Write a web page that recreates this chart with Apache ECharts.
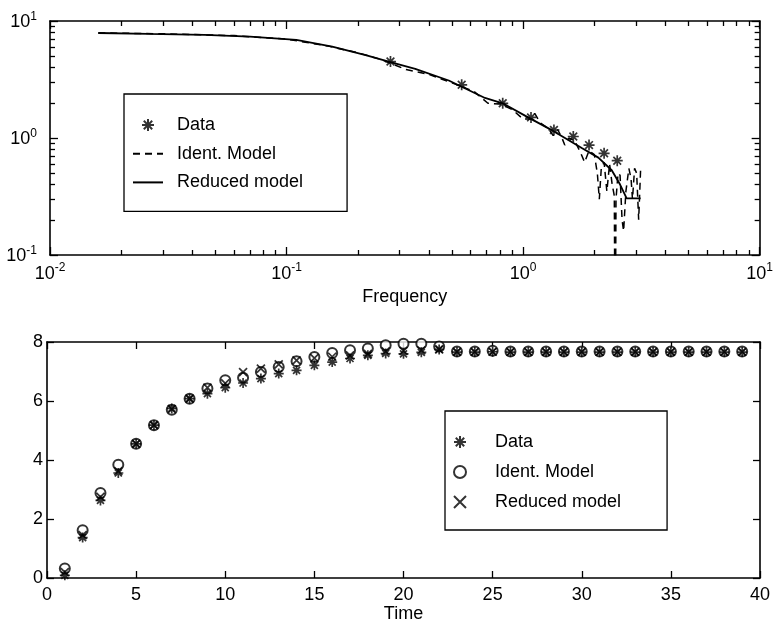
<!DOCTYPE html>
<html>
<head>
<meta charset="utf-8">
<script src="https://cdn.jsdelivr.net/npm/echarts@6/dist/echarts.min.js"></script>
<style>
  html, body { margin: 0; background: #fff; }
  #chart { width: 776px; height: 629px; }
</style>
</head>
<body>
<div id="chart"></div>
<script>
// top panel: frequency response (log-log)
const freqData = [0.275, 0.55, 0.82, 1.08, 1.35, 1.63, 1.9, 2.2, 2.5]
const magData = [4.5, 2.85, 1.98, 1.5, 1.17, 1.03, 0.87, 0.74, 0.64]

const freqIdent = [0.016, 0.03, 0.06, 0.1, 0.15, 0.2, 0.25, 0.32, 0.4, 0.47, 0.55, 0.62, 0.71, 0.8, 0.9, 1.0, 1.08, 1.12, 1.18, 1.28, 1.34, 1.4, 1.46, 1.5, 1.56, 1.65, 1.75, 1.82, 1.9, 2.0, 2.06, 2.1, 2.14, 2.2, 2.26, 2.32, 2.38, 2.43, 2.45, 2.47, 2.52, 2.57, 2.62, 2.66, 2.72, 2.8, 2.86, 2.9, 2.96, 3.02, 3.08, 3.14]
const magIdent = [7.9, 7.78, 7.5, 7.0, 6.1, 5.35, 4.7, 3.85, 3.5, 3.1, 2.75, 2.5, 1.98, 1.95, 1.75, 1.45, 1.45, 1.62, 1.35, 1.2, 1.05, 1.18, 1.0, 0.87, 1.0, 0.95, 0.75, 0.62, 0.78, 0.72, 0.5, 0.3, 0.55, 0.62, 0.35, 0.6, 0.4, 0.32, 0.01, 0.3, 0.5, 0.48, 0.2, 0.16, 0.35, 0.55, 0.45, 0.3, 0.55, 0.5, 0.2, 0.55]

const freqReduced = [0.016, 0.026, 0.045, 0.07, 0.11, 0.156, 0.216, 0.275, 0.35, 0.485, 0.69, 0.82, 1.05, 1.34, 1.77, 2.08, 2.37, 2.57, 2.74, 3.14]
const magReduced = [7.9, 7.75, 7.6, 7.35, 6.9, 6.05, 5.1, 4.45, 3.9, 3.1, 2.2, 1.98, 1.5, 1.15, 0.82, 0.68, 0.53, 0.4, 0.305, 0.305]

// bottom panel: step response
const time = [1, 2, 3, 4, 5, 6, 7, 8, 9, 10, 11, 12, 13, 14, 15, 16, 17, 18, 19, 20, 21, 22, 23, 24, 25, 26, 27, 28, 29, 30, 31, 32, 33, 34, 35, 36, 37, 38, 39]
const stepData = [0.09, 1.37, 2.63, 3.56, 4.55, 5.18, 5.75, 6.08, 6.25, 6.45, 6.61, 6.76, 6.93, 7.04, 7.21, 7.32, 7.44, 7.55, 7.61, 7.6, 7.65, 7.75, 7.66, 7.66, 7.67, 7.66, 7.66, 7.66, 7.66, 7.66, 7.66, 7.66, 7.66, 7.66, 7.66, 7.66, 7.66, 7.66, 7.66]
const stepIdent = [0.32, 1.62, 2.88, 3.84, 4.55, 5.18, 5.7, 6.08, 6.42, 6.7, 6.79, 6.98, 7.15, 7.35, 7.49, 7.63, 7.72, 7.78, 7.89, 7.94, 7.94, 7.85, 7.68, 7.68, 7.7, 7.68, 7.68, 7.68, 7.68, 7.68, 7.68, 7.68, 7.68, 7.68, 7.68, 7.68, 7.68, 7.68, 7.68]
const stepReduced = [0.2, 1.45, 2.75, 3.62, 4.55, 5.18, 5.72, 6.08, 6.45, 6.6, 6.98, 7.1, 7.24, 7.38, 7.45, 7.5, 7.55, 7.6, 7.68, 7.7, 7.72, 7.75, 7.67, 7.67, 7.67, 7.67, 7.67, 7.67, 7.67, 7.67, 7.67, 7.67, 7.67, 7.67, 7.67, 7.67, 7.67, 7.67, 7.67]

const font = '"Liberation Sans", Arial, sans-serif'
const starPath = 'path://M0,-10L0,10M-10,0L10,0M-7,-7L7,7M-7,7L7,-7'
const crossPath = 'path://M-10,-10L10,10M-10,10L10,-10'

const zip = (xs, ys) => xs.map((x, i) => [x, ys[i]])

// minor tick positions (log10 space) for the log axes
function minorTicks(fromDecade, toDecade) {
  const out = []
  for (let d = fromDecade; d < toDecade; d++) {
    for (let k = 2; k <= 9; k++) out.push(d + Math.log10(k))
  }
  return out
}

const powRich = {
  b: { fontSize: 18, fontFamily: font, color: '#000', padding: [3, 0, 0, 0], verticalAlign: 'bottom' },
  s: { fontSize: 12, fontFamily: font, color: '#000', verticalAlign: 'top' }
}
const powLabel = v => '{b|10}{s|' + Math.round(Math.log10(v)) + '}'

const line = { show: true, onZero: false, lineStyle: { color: '#000', width: 1.6 } }
const noLine = { show: false, onZero: false }
const tick = len => ({ show: true, inside: true, length: len, lineStyle: { color: '#000', width: 1.3 } })
const noLabel = { show: false }
const noSplit = { show: false }
const nameStyle = { fontSize: 18, fontFamily: font, color: '#000' }

function logAxis(grid, pos, min, max, withLabel, margin) {
  return {
    type: 'log', logBase: 10, gridIndex: grid, position: pos, min, max,
    axisLine: line, axisTick: tick(8), splitLine: noSplit,
    axisLabel: withLabel ? { formatter: powLabel, rich: powRich, margin } : noLabel
  }
}
function minorAxis(grid, pos, min, max) {
  return {
    type: 'value', gridIndex: grid, position: pos, min, max,
    axisLine: noLine, splitLine: noSplit, axisLabel: noLabel,
    axisTick: Object.assign(tick(5), { customValues: minorTicks(min, max) })
  }
}
function linAxis(grid, pos, min, max, interval, withLabel, margin) {
  return {
    type: 'value', gridIndex: grid, position: pos, min, max, interval,
    axisLine: line, axisTick: tick(7), splitLine: noSplit,
    axisLabel: withLabel ? { fontSize: 18, fontFamily: font, color: '#000', margin } : noLabel
  }
}

const xAxes = [
  Object.assign(logAxis(0, 'bottom', 0.01, 10, true, 7), {
    name: 'Frequency', nameLocation: 'middle', nameGap: 33, nameTextStyle: nameStyle
  }),
  logAxis(0, 'top', 0.01, 10, false),
  minorAxis(0, 'bottom', -2, 1),
  minorAxis(0, 'top', -2, 1),
  Object.assign(linAxis(1, 'bottom', 0, 40, 5, true, 8), {
    name: 'Time', nameLocation: 'middle', nameGap: 26, nameTextStyle: nameStyle
  }),
  linAxis(1, 'top', 0, 40, 5, false)
]
const yAxes = [
  logAxis(0, 'left', 0.1, 10, true, 13),
  logAxis(0, 'right', 0.1, 10, false),
  minorAxis(0, 'left', -1, 1),
  minorAxis(0, 'right', -1, 1),
  linAxis(1, 'left', 0, 8, 2, true, 4),
  linAxis(1, 'right', 0, 8, 2, false)
]

const markerStyle = { color: 'rgba(0,0,0,0)', borderColor: '#000', borderWidth: 1.7 }

const series = [
  {
    name: 'Ident. Model', type: 'line', xAxisIndex: 0, yAxisIndex: 0,
    data: zip(freqIdent, magIdent), symbol: 'none', clip: true,
    lineStyle: { color: '#000', width: 1.5, type: [7, 5] }, itemStyle: { color: '#000' }
  },
  {
    name: 'Reduced model', type: 'line', xAxisIndex: 0, yAxisIndex: 0,
    data: zip(freqReduced, magReduced), symbol: 'none', clip: true,
    lineStyle: { color: '#000', width: 1.8 }, itemStyle: { color: '#000' }
  },
  {
    name: 'Data', type: 'scatter', xAxisIndex: 0, yAxisIndex: 0,
    data: zip(freqData, magData), symbol: starPath, symbolSize: 11, itemStyle: markerStyle
  },
  {
    name: 'Ident. Model#2', type: 'scatter', xAxisIndex: 4, yAxisIndex: 4,
    data: zip(time, stepIdent), symbol: 'emptyCircle', symbolSize: 10,
    itemStyle: { color: '#000', borderWidth: 1.7 }
  },
  {
    name: 'Reduced model#2', type: 'scatter', xAxisIndex: 4, yAxisIndex: 4,
    data: zip(time, stepReduced), symbol: crossPath, symbolSize: 8, itemStyle: markerStyle
  },
  {
    name: 'Data#2', type: 'scatter', xAxisIndex: 4, yAxisIndex: 4,
    data: zip(time, stepData), symbol: starPath, symbolSize: 10, itemStyle: markerStyle
  }
]

const legendBase = {
  orient: 'vertical', selectedMode: false,
  borderColor: '#000', borderWidth: 1.3, borderRadius: 0, backgroundColor: '#fff',
  itemHeight: 12
}
// line entries: hide the legend dot, keep only the line sample
const lineOnly = name => ({ name, itemStyle: { opacity: 0 } })

const chart = echarts.init(document.getElementById('chart'), null, { renderer: 'canvas' })
chart.setOption({
  animation: false,
  backgroundColor: '#fff',
  grid: [
    { left: 50, top: 21, width: 712, height: 234 },
    { left: 47, top: 342, width: 713, height: 236 }
  ],
  xAxis: xAxes,
  yAxis: yAxes,
  legend: [
    Object.assign({}, legendBase, {
      data: ['Data', lineOnly('Ident. Model'), lineOnly('Reduced model')],
      left: 124, top: 94, padding: [22, 44, 20, 8], itemGap: 10.7, itemWidth: 30,
      textStyle: { fontSize: 18, fontFamily: font, color: '#000', padding: [0, 0, 0, 9] }
    }),
    Object.assign({}, legendBase, {
      data: ['Data#2', 'Ident. Model#2', 'Reduced model#2'],
      formatter: n => n.replace('#2', ''),
      left: 445, top: 411, padding: [22, 46, 19, 8], itemGap: 12, itemWidth: 18,
      textStyle: { fontSize: 18, fontFamily: font, color: '#000', padding: [0, 0, 0, 21] }
    })
  ],
  series
})
window.addEventListener('resize', () => chart.resize())
</script>
</body>
</html>
